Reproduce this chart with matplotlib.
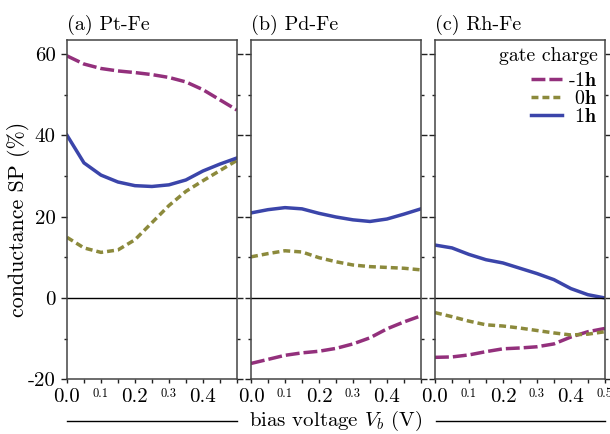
import numpy as np
import matplotlib
matplotlib.use("Agg")
import matplotlib.pyplot as plt
from matplotlib.lines import Line2D

plt.rcParams['font.family'] = 'serif'
plt.rcParams['font.serif'] = ['cmr10']
plt.rcParams['mathtext.fontset'] = 'cm'
plt.rcParams['axes.formatter.use_mathtext'] = True
plt.rcParams['axes.unicode_minus'] = False

# bias voltage grid (V)
bias = [0.0, 0.05, 0.1, 0.15, 0.2, 0.25, 0.3, 0.35, 0.4, 0.45, 0.5]

panels = ["(a) Pt-Fe", "(b) Pd-Fe", "(c) Rh-Fe"]

# conductance SP (%) per gate charge
ptfe_m1 = [59.5, 57.5, 56.4, 55.8, 55.4, 54.9, 54.2, 53.1, 51.2, 48.7, 46.2]
ptfe_0 = [14.9, 12.3, 11.2, 11.8, 14.3, 18.5, 22.7, 26.2, 28.8, 31.3, 33.8]
ptfe_1 = [40.0, 33.2, 30.2, 28.5, 27.6, 27.4, 27.8, 29.0, 31.2, 32.9, 34.4]

pdfe_m1 = [-16.1, -15.1, -14.1, -13.5, -13.1, -12.4, -11.3, -9.8, -7.6, -5.9, -4.4]
pdfe_0 = [10.1, 10.9, 11.6, 11.3, 9.9, 8.9, 8.1, 7.7, 7.5, 7.3, 6.9]
pdfe_1 = [20.9, 21.7, 22.2, 21.9, 20.8, 19.9, 19.2, 18.8, 19.4, 20.6, 21.9]

rhfe_m1 = [-14.6, -14.5, -14.0, -13.2, -12.5, -12.3, -12.0, -11.3, -9.6, -8.3, -7.5]
rhfe_0 = [-3.6, -4.6, -5.7, -6.6, -6.9, -7.4, -8.0, -8.6, -9.1, -8.9, -8.3]
rhfe_1 = [13.0, 12.3, 10.7, 9.4, 8.6, 7.3, 6.0, 4.5, 2.3, 0.8, 0.0]

data = [(ptfe_m1, ptfe_0, ptfe_1), (pdfe_m1, pdfe_0, pdfe_1), (rhfe_m1, rhfe_0, rhfe_1)]

labels = ['-1$\\mathbf{h}$', '$\\hspace{0.38}$0$\\mathbf{h}$', '$\\hspace{0.38}$1$\\mathbf{h}$']
colors = ['#93307c', '#8c8a3c', '#3b45aa']
styles = [(0, (4.0, 1.15)), (0, (2.0, 1.15)), '-']

fig = plt.figure(figsize=(6.1, 4.34), dpi=100)
lefts = [0.1098, 0.4115, 0.7131]
axes = []
for i, l in enumerate(lefts):
    ax = fig.add_axes([l, 0.126, 0.2785, 0.7818])
    axes.append(ax)
    for ys, c, ls, lab in zip(data[i], colors, styles, labels):
        ax.plot(bias, ys, color=c, ls=ls, lw=2.5, label=lab)
    ax.axhline(0, color='k', lw=1)
    ax.set_xlim(0, 0.5)
    ax.set_ylim(-20, 63.4)
    for s in ax.spines.values():
        s.set_color('#444444')
        s.set_linewidth(1.1)

    ax.set_yticks([-20, 0, 20, 40, 60])
    ax.set_yticks([-10, 10, 30, 50], minor=True)
    if i == 0:
        ax.set_yticklabels(['-20', '0', '20', '40', '60'], fontsize=15)
    ax.tick_params(axis='y', which='both', direction='out', left=True, right=True,
                   labelleft=(i == 0), color='#222222', width=1, pad=3.5)
    ax.tick_params(axis='y', which='major', length=4.5)
    ax.tick_params(axis='y', which='minor', length=2.5)

    ax.set_xticks([0.0, 0.2, 0.4], labels=['0.0', '0.2', '0.4'], fontsize=15)
    small = ['', '0.1', '', '', '0.3', '', '', '0.5' if i == 2 else '']
    ax.set_xticks([0.05, 0.1, 0.15, 0.25, 0.3, 0.35, 0.45, 0.5], labels=small,
                  minor=True, fontsize=9)
    ax.tick_params(axis='x', which='both', direction='out', length=3, width=1,
                   color='#222222', pad=3)
    ax.set_title(panels[i], loc='left', fontsize=14.5, pad=7)

leg = axes[2].legend(loc='upper right', frameon=False, title='gate charge',
                     alignment='right', fontsize=14.3, title_fontsize=14.3,
                     handlelength=1.6, handletextpad=0.3, labelspacing=0.0,
                     borderpad=0.15, borderaxespad=0.2)
# a little more room between the title and the entries
leg._legend_box.sep = 5

# y label
fig.text(19 / 610, 0.495, 'conductance SP (%)', rotation=90, ha='center', va='center',
         fontsize=15.8)

# x label with rules either side
fig.text(0.5505, 0.031, 'bias voltage $V_b$ (V)', ha='center', va='center', fontsize=15)
fig.add_artist(Line2D([0.1098, 0.3885], [0.030, 0.030], color='k', lw=1))
fig.add_artist(Line2D([0.7148, 0.9918], [0.030, 0.030], color='k', lw=1))

fig.savefig('out.png', dpi=100)
